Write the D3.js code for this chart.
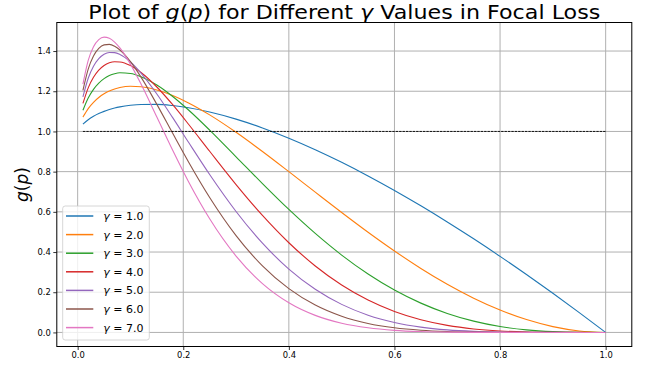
<!DOCTYPE html>
<html><head><meta charset="utf-8">
<script src="https://cdn.jsdelivr.net/npm/d3@7"></script>
<style>body{margin:0;background:#fff}svg{display:block}text{font-family:"DejaVu Sans",sans-serif}</style>
</head><body>
<script>
const pValues = [0.01,0.02,0.03,0.04,0.05,0.06,0.07,0.08,0.10,0.12,0.15,0.18,0.21,0.25,0.30,0.35,0.40,0.45,0.50,0.55,0.60,0.65,0.70,0.75,0.80,0.85,0.90,0.95,1.00];
const gamma1 = [1.0361,1.0582,1.0752,1.0888,1.0998,1.1088,1.1162,1.1221,1.1303,1.1344,1.1346,1.1287,1.1177,1.0966,1.0612,1.0174,0.9665,0.9093,0.8466,0.7788,0.7065,0.6300,0.5497,0.4658,0.3785,0.2881,0.1948,0.0987,0];
const gamma2 = [1.0713,1.1138,1.1450,1.1688,1.1871,1.2010,1.2111,1.2182,1.2245,1.2222,1.2063,1.1786,1.1419,1.0824,0.9957,0.9002,0.7998,0.6978,0.5966,0.4984,0.4052,0.3185,0.2398,0.1704,0.1114,0.0639,0.0290,0.0074,0];
const gamma3 = [1.1057,1.1666,1.2096,1.2407,1.2629,1.2781,1.2874,1.2918,1.2885,1.2726,1.2309,1.1740,1.1067,1.0067,0.8740,0.7404,0.6118,0.4925,0.3849,0.2909,0.2111,0.1458,0.0944,0.0561,0.0294,0.0127,0.0038,0.0005,0];
const gamma4 = [1.1393,1.2169,1.2693,1.3050,1.3282,1.3416,1.3470,1.3458,1.3275,1.2933,1.2211,1.1329,1.0359,0.9013,0.7357,0.5821,0.4463,0.3306,0.2358,0.1609,0.1041,0.0630,0.0351,0.0174,0.0073,0.0024,0.0005,0.00003,0];
const gamma5 = [1.1722,1.2648,1.3244,1.3622,1.3838,1.3929,1.3919,1.3829,1.3459,1.2906,1.1864,1.0685,0.9460,0.7856,0.6017,0.4440,0.3153,0.2147,0.1396,0.0859,0.0495,0.0263,0.0125,0.0052,0.0018,0.0004,0.00006,0,0];
const gamma6 = [1.2043,1.3102,1.3750,1.4127,1.4305,1.4332,1.4240,1.4054,1.3472,1.2700,1.1347,0.9906,0.8482,0.6714,0.4819,0.3312,0.2177,0.1362,0.0806,0.0447,0.0229,0.0107,0.0044,0.0015,0.0004,0.0001,0,0,0];
const gamma7 = [1.2356,1.3533,1.4214,1.4569,1.4691,1.4637,1.4448,1.4155,1.3349,1.2358,1.0719,0.9061,0.7497,0.5653,0.3798,0.2430,0.1477,0.0849,0.0457,0.0229,0.0104,0.0043,0.0015,0.0004,0.0001,0,0,0,0];
const gammaLabels = ["1.0","2.0","3.0","4.0","5.0","6.0","7.0"];
const seriesValues = [gamma1,gamma2,gamma3,gamma4,gamma5,gamma6,gamma7];
const colors = ["#1f77b4","#ff7f0e","#2ca02c","#d62728","#9467bd","#8c564b","#e377c2"];
const xTicks = [0.0,0.2,0.4,0.6,0.8,1.0];
const yTicks = [0.0,0.2,0.4,0.6,0.8,1.0,1.2,1.4];
const refLine = [[0.01,1.0],[1.0,1.0]];

const W = 646, H = 368;
const L = 56.8, R = 631.8, T = 22.5, B = 346.5;
const svg = d3.select("body").append("svg").attr("width",W).attr("height",H);
const x = d3.scaleLinear().domain([-0.0395,1.0495]).range([L,R]);
const y = d3.scaleLinear().domain([-0.07,1.542]).range([B,T]);

// grid
const g = svg.append("g");
g.selectAll(".vg").data(xTicks).enter().append("line")
  .attr("x1",d=>x(d)).attr("x2",d=>x(d)).attr("y1",T).attr("y2",B)
  .attr("stroke","#b0b0b0").attr("stroke-width",1);
g.selectAll(".hg").data(yTicks).enter().append("line")
  .attr("y1",d=>y(d)).attr("y2",d=>y(d)).attr("x1",L).attr("x2",R)
  .attr("stroke","#b0b0b0").attr("stroke-width",1);

// curves
const line = d3.line().x(d=>x(d[0])).y(d=>y(d[1])).curve(d3.curveMonotoneX);
seriesValues.forEach((vals,i)=>{
  svg.append("path").datum(pValues.map((p,j)=>[p,vals[j]]))
    .attr("d",line).attr("fill","none").attr("stroke",colors[i]).attr("stroke-width",1.1);
});
svg.append("path").datum(refLine).attr("d",d3.line().x(d=>x(d[0])).y(d=>y(d[1])))
  .attr("fill","none").attr("stroke","#000").attr("stroke-width",0.9).attr("stroke-dasharray","2.4,1");

// axes
const xAxis = d3.axisBottom(x).tickValues(xTicks).tickFormat(d3.format(".1f")).tickSize(3.5).tickPadding(2.5);
const yAxis = d3.axisLeft(y).tickValues(yTicks).tickFormat(d3.format(".1f")).tickSize(3.5).tickPadding(2.5);
const gx = svg.append("g").attr("transform",`translate(0,${B})`).call(xAxis);
const gy = svg.append("g").attr("transform",`translate(${L},0)`).call(yAxis);
[gx,gy].forEach(a=>{
  a.select(".domain").remove();
  a.selectAll("text").attr("font-family","DejaVu Sans").attr("font-size",8.4).attr("fill","#000");
  a.selectAll("line").attr("stroke","#000").attr("stroke-width",0.8);
});
svg.append("rect").attr("x",L).attr("y",T).attr("width",R-L).attr("height",B-T)
  .attr("fill","none").attr("stroke","#000").attr("stroke-width",1);

// title
const title = svg.append("text").attr("transform",`translate(${(L+R)/2},18.8) scale(1,0.9)`).attr("text-anchor","middle")
  .attr("font-size",22.2).attr("fill","#000");
title.append("tspan").text("Plot of ");
title.append("tspan").attr("font-style","italic").text("g");
title.append("tspan").text("(");
title.append("tspan").attr("font-style","italic").text("p");
title.append("tspan").text(") for Different ");
title.append("tspan").attr("font-style","italic").text("γ");
title.append("tspan").text(" Values in Focal Loss");

// y label
const yl = svg.append("text").attr("transform",`translate(27.5,${(T+B)/2}) rotate(-90)`)
  .attr("text-anchor","middle").attr("font-size",17).attr("fill","#000");
yl.append("tspan").attr("font-style","italic").text("g");
yl.append("tspan").text("(");
yl.append("tspan").attr("font-style","italic").text("p");
yl.append("tspan").text(")");

// legend
const lg = svg.append("g");
lg.append("rect").attr("x",62.7).attr("y",206).attr("width",86.6).attr("height",134).attr("rx",2.5)
  .attr("fill","#fff").attr("fill-opacity",0.8).attr("stroke","#cccccc").attr("stroke-width",0.8);
gammaLabels.forEach((lab,i)=>{
  const cy = 216 + i*18.6;
  lg.append("line").attr("x1",66).attr("x2",93.3).attr("y1",cy).attr("y2",cy)
    .attr("stroke",colors[i]).attr("stroke-width",1.5);
  const t = lg.append("text").attr("x",103.3).attr("y",cy+4).attr("font-size",11).attr("fill","#000");
  t.append("tspan").attr("font-style","italic").text("γ");
  t.append("tspan").text(" = " + lab);
});
</script>
</body></html>
